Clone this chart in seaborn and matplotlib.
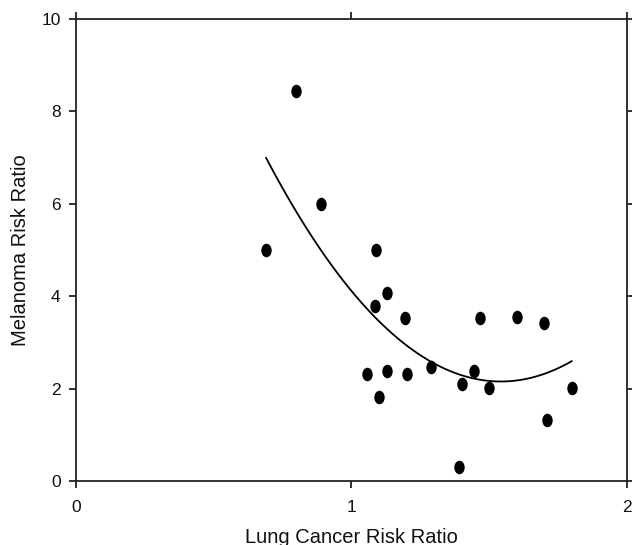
import numpy as np
import pandas as pd
import matplotlib
matplotlib.use("Agg")
import matplotlib.pyplot as plt
from matplotlib.path import Path
import seaborn as sns

lung_rr = [0.69, 0.80, 0.89, 1.09, 1.085, 1.13, 1.195, 1.055, 1.13, 1.10,
           1.20, 1.29, 1.40, 1.445, 1.465, 1.50, 1.60, 1.70, 1.71, 1.39, 1.80]
melanoma_rr = [5.0, 8.45, 6.0, 5.0, 3.78, 4.07, 3.52, 2.31, 2.39, 1.81,
               2.31, 2.46, 2.11, 2.38, 3.53, 2.02, 3.54, 3.42, 1.32, 0.31, 2.02]

df = pd.DataFrame({"lung": lung_rr, "mel": melanoma_rr})

sns.set_style("ticks")
plt.rcParams["font.family"] = ["Liberation Sans", "DejaVu Sans"]

circ = Path.unit_circle()
ellipse = Path(circ.vertices * np.array([1.0, 1.3]), circ.codes)

fig = plt.figure(figsize=(6.32, 5.45), dpi=100)
ax = fig.add_axes([0.120, 0.1174, 0.872, 0.8477])

sns.scatterplot(data=df, x="lung", y="mel", ax=ax, color="black",
                marker=ellipse, s=95, edgecolor="black", linewidth=0, legend=False)
sns.regplot(data=df, x="lung", y="mel", ax=ax, scatter=False, order=2, ci=None,
            color="black", line_kws={"linewidth": 1.3})

ax.set_xlim(0, 2)
ax.set_ylim(0, 10)
ax.set_xticks([0, 1, 2])
ax.set_yticks([0, 2, 4, 6, 8, 10])
ax.set_xlabel("Lung Cancer Risk Ratio", fontsize=14.5, labelpad=9, color="#111111")
ax.set_ylabel("Melanoma Risk Ratio", fontsize=14.5, labelpad=8, color="#111111")
ax.tick_params(axis="both", which="both", direction="out", length=5, width=1.3,
               labelsize=12.5, top=True, right=True, labeltop=False, labelright=False,
               color="#222222", labelcolor="#111111", pad=6)
ax.tick_params(axis="x", pad=9)
for sp in ax.spines.values():
    sp.set_visible(True)
    sp.set_linewidth(1.3)
    sp.set_color("#222222")

fig.savefig("out.png", dpi=100)
